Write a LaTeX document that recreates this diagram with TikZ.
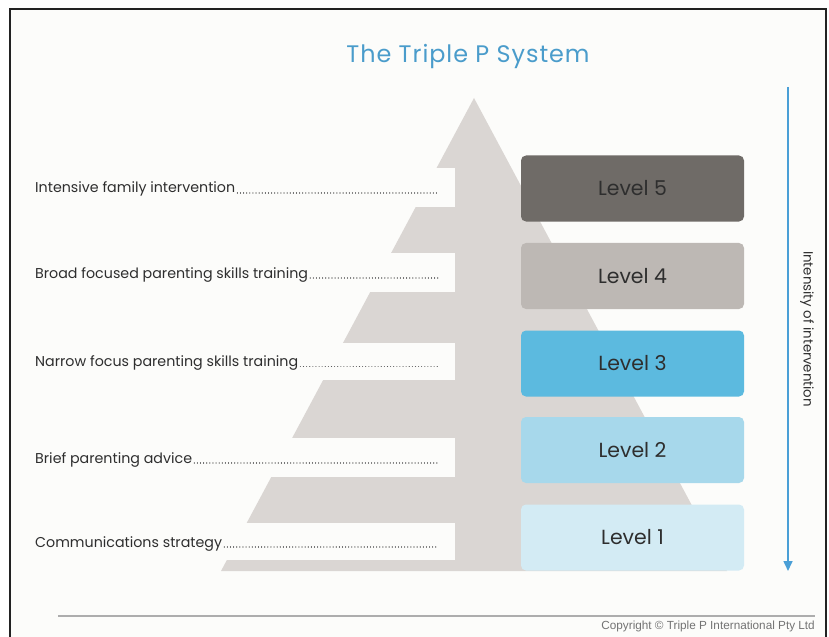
\documentclass[tikz,border=0pt]{standalone}
\usepackage{fontspec}
\setmainfont{Poppins}
\newfontfamily\titlefont[LetterSpace=4]{Poppins}
\newfontfamily\arialfont{Liberation Sans}
\usetikzlibrary{arrows.meta}

\definecolor{pagebg}{HTML}{FCFCFA}
\definecolor{framecol}{HTML}{222222}
\definecolor{pyrgray}{HTML}{DAD6D3}
\definecolor{titleblue}{HTML}{4A9CCB}
\definecolor{arrowblue}{HTML}{4A9FD6}
\definecolor{txtdark}{HTML}{2E2E2E}
\definecolor{lvfive}{HTML}{6F6B67}
\definecolor{lvfour}{HTML}{BDB8B4}
\definecolor{lvthree}{HTML}{5CBADF}
\definecolor{lvtwo}{HTML}{A7D8EB}
\definecolor{lvone}{HTML}{D3EBF4}

\tikzset{
  levelbox/.style={rounded corners=5bp, minimum width=223bp, minimum height=66bp,
    inner sep=0pt, text=txtdark, font=\fontsize{20.5}{23}\selectfont},
  sidelabel/.style={anchor=base west, inner sep=0pt, text=txtdark,
    font=\fontsize{14.3}{16}\selectfont},
  leader/.style={draw=txtdark!80, line width=1.1bp, line cap=round,
    dash pattern=on 0.01bp off 3.1bp},
  stepcut/.style={fill=pagebg, draw=none},
}

\begin{document}
\begin{tikzpicture}[x=1bp,y=-1bp]
\useasboundingbox (0,0) rectangle (829,637);
\fill[white] (0,0) rectangle (829,637);
% page area inside the frame
\fill[pagebg] (10,9) rectangle (826,637);
\draw[framecol, line width=2.6bp] (10,637) -- (10,9) -- (826,9) -- (826,637);

% title
\node[text=titleblue, font=\titlefont\fontsize{24}{27}\selectfont] (title) at (468,57) {The Triple P System};

% stepped pyramid
\fill[pyrgray] (474,98) -- (727,571) -- (221,571) -- cycle;
\foreach \ya/\yb in {168/207, 253/292, 343/380, 438/477, 523/560}
  \fill[stepcut] (150,\ya) rectangle (455,\yb);

% level boxes
\node[levelbox, fill=lvfive]  (l5) at (632.5,188.5) {Level 5};
\node[levelbox, fill=lvfour]  (l4) at (632.5,276)   {Level 4};
\node[levelbox, fill=lvthree] (l3) at (632.5,363.5) {Level 3};
\node[levelbox, fill=lvtwo]   (l2) at (632.5,450)   {Level 2};
\node[levelbox, fill=lvone]   (l1) at (632.5,537.5) {Level 1};

% labels with dotted leaders
\node[sidelabel] (t5) at (35,193) {Intensive family intervention};
\node[sidelabel] (t4) at (35,278) {Broad focused parenting skills training};
\node[sidelabel] (t3) at (35,366.5) {Narrow focus parenting skills training};
\node[sidelabel] (t2) at (35,463) {Brief parenting advice};
\node[sidelabel] (t1) at (35,547) {Communications strategy};
\coordinate (d5) at (438,193);
\coordinate (d4) at (438,278);
\coordinate (d3) at (438,366.5);
\coordinate (d2) at (438,463);
\coordinate (d1) at (438,547);
\foreach \i in {1,...,5}
  \draw[leader] ([xshift=2bp]t\i.base east) -- (d\i);

% intensity arrow
\coordinate (atop) at (788,87);
\coordinate (abot) at (788,571);
\draw[arrowblue, line width=1.6bp, -{Triangle[width=9bp,length=10bp]}] (atop) -- (abot);
\node[rotate=-90, text=txtdark, font=\fontsize{13.4}{15}\selectfont] (intens) at (807,329) {Intensity of intervention};

% footer
\coordinate (fl) at (58,616);
\coordinate (fr) at (815,616);
\draw[black!32, line width=1.2bp] (fl) -- (fr);
\node[anchor=base east, inner sep=0pt, text=black!55, font=\arialfont\fontsize{11.8}{13}\selectfont] (copy) at (815,629.5) {Copyright © Triple P International Pty Ltd};
\end{tikzpicture}
\end{document}
